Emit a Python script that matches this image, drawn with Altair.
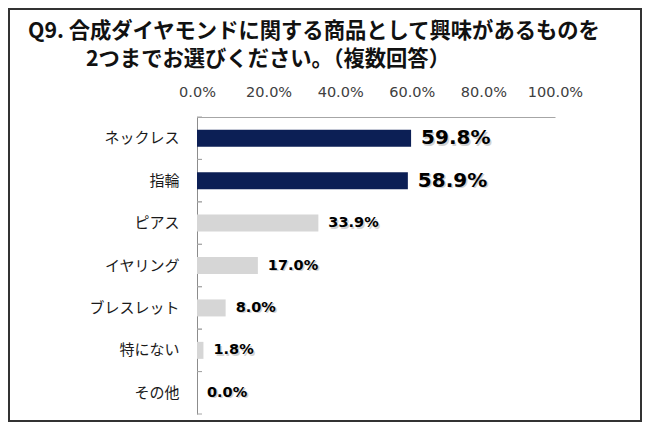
import altair as alt
import pandas as pd

categories = ["ネックレス", "指輪", "ピアス", "イヤリング", "ブレスレット", "特にない", "その他"]
values = [59.8, 58.9, 33.9, 17.0, 8.0, 1.8, 0.0]
x_ticks = [0, 20, 40, 60, 80, 100]
title_lines = ["Q9. 合成ダイヤモンドに関する商品として興味があるものを", "2つまでお選びください。（複数回答）"]

df = pd.DataFrame({"cat": categories, "value": values})
df["label"] = [f"{v:.1f}%" for v in values]

W, H = 358, 297
JP = "Noto Sans CJK JP"
LAT = "DejaVu Sans"

x_scale = alt.Scale(domain=[0, 100], nice=False, zero=True)
y_scale = alt.Scale(domain=categories, paddingInner=0, paddingOuter=0)

base = alt.Chart(df)

bars = base.mark_bar(size=17).encode(
    x=alt.X("value:Q", scale=x_scale,
            axis=alt.Axis(orient="top", values=x_ticks,
                          labelExpr="format(datum.value, '.1f') + '%'",
                          title=None, ticks=False, grid=False,
                          labelOverlap=False, labelFlush=False, labelBound=False,
                          domain=True, domainColor="#a6a6a6", domainWidth=1,
                          labelFont=LAT, labelFontSize=14.5, labelColor="#404040",
                          labelPadding=18)),
    y=alt.Y("cat:N", scale=y_scale, sort=categories,
            axis=alt.Axis(title=None, ticks=False, domain=True, domainColor="#8c8c8c",
                          domainWidth=1, labelFont=JP, labelFontSize=15,
                          labelColor="#1a1a1a", labelPadding=18)),
    color=alt.condition(alt.datum.value > 50, alt.value("#0c1f55"), alt.value("#d6d6d6")),
)

tick_top = base.mark_rule(color="#a6a6a6", strokeWidth=1).encode(
    y=alt.Y("cat:N", scale=y_scale, sort=categories, bandPosition=0),
    x=alt.value(0), x2=alt.value(5),
)
tick_bot = base.mark_rule(color="#a6a6a6", strokeWidth=1).encode(
    y=alt.Y("cat:N", scale=y_scale, sort=categories, bandPosition=1),
    x=alt.value(0), x2=alt.value(5),
)

size_enc = alt.condition(alt.datum.value > 50, alt.value(20), alt.value(14.5))

shadow = base.mark_text(align="left", baseline="middle", dx=11.5, dy=1.5,
                        font=LAT, fontWeight="bold", color="#c8c8c8", opacity=0.8).encode(
    x=alt.X("value:Q", scale=x_scale),
    y=alt.Y("cat:N", scale=y_scale, sort=categories),
    text="label:N",
    size=size_enc,
)
labels = base.mark_text(align="left", baseline="middle", dx=10,
                        font=LAT, fontWeight="bold", color="#000000").encode(
    x=alt.X("value:Q", scale=x_scale),
    y=alt.Y("cat:N", scale=y_scale, sort=categories),
    text="label:N",
    size=size_enc,
)

tdf = pd.DataFrame({"t": title_lines, "i": [0, 1]})
title1 = alt.Chart(tdf).transform_filter(alt.datum.i == 0).mark_text(
    align="left", baseline="middle", font=JP, fontWeight="bold", fontSize=21.3, color="#111111"
).encode(x=alt.value(-169), y=alt.value(-85), text="t:N")
title2 = alt.Chart(tdf).transform_filter(alt.datum.i == 1).mark_text(
    align="left", baseline="middle", font=JP, fontWeight="bold", fontSize=21.3, color="#111111"
).encode(x=alt.value(-111), y=alt.value(-57), text="t:N")

frame = alt.Chart(pd.DataFrame({"a": [0]})).mark_rect(
    filled=False, stroke="#333333", strokeWidth=2
).encode(x=alt.value(-188), x2=alt.value(444), y=alt.value(-108), y2=alt.value(304))

chart = alt.layer(bars, tick_top, tick_bot, shadow, labels, title1, title2, frame).properties(
    width=W, height=H,
    autosize=alt.AutoSizeParams(type="none"),
    padding={"left": 189, "top": 109, "right": 87, "bottom": 8},
    background="white",
).configure_view(stroke=None)

chart.save("out.html", embed_options={"renderer": "svg", "actions": False})
